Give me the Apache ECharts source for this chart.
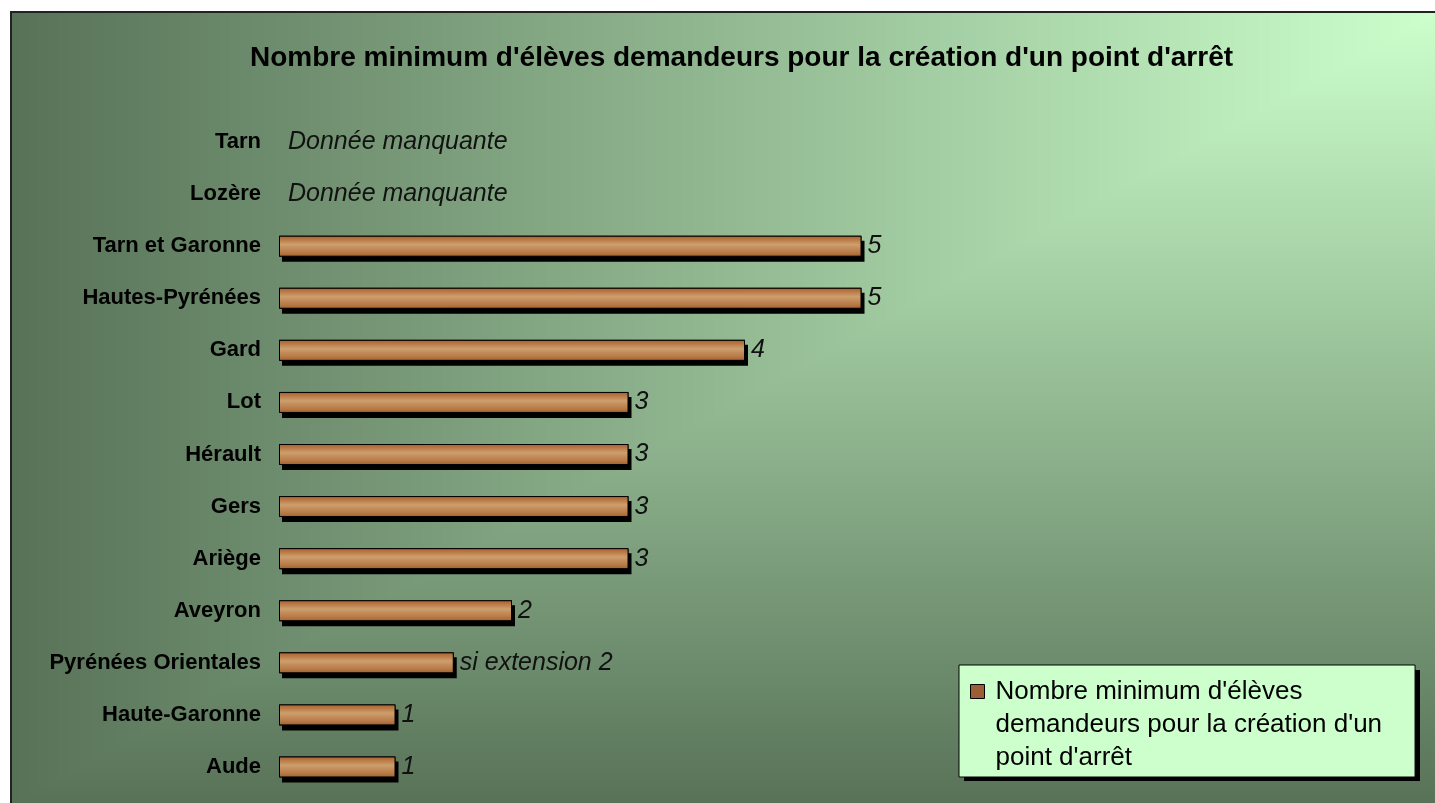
<!DOCTYPE html>
<html>
<head>
<meta charset="utf-8">
<script src="https://cdn.jsdelivr.net/npm/echarts@6/dist/echarts.min.js"></script>
<style>
  html, body { margin: 0; padding: 0; background: #fff; overflow: hidden; }
  #cadre {
    position: absolute; left: 10px; top: 11px;
    width: 1440px; height: 800px;
    border-left: 2px solid #222; border-top: 2px solid #222;
  }
  #chart { position: absolute; left: 0; top: 0; width: 1435px; height: 803px; }
</style>
</head>
<body>
<div id="cadre"></div>
<div id="chart"></div>
<script>
// données (ordre Excel : du bas vers le haut)
const departements = ['Aude', 'Haute-Garonne', 'Pyrénées Orientales', 'Aveyron', 'Ariège', 'Gers',
  'Hérault', 'Lot', 'Gard', 'Hautes-Pyrénées', 'Tarn et Garonne', 'Lozère', 'Tarn'];
const nbEleves = [1, 1, 1.5, 2, 3, 3, 3, 3, 4, 5, 5, null, null];
const etiquettes = ['1', '1', 'si extension 2', '2', '3', '3', '3', '3', '4', '5', '5',
  'Donnée manquante', 'Donnée manquante'];
const titre = "Nombre minimum d'élèves demandeurs pour la création d'un point d'arrêt";

const police = 'Arial, "Liberation Sans", sans-serif';

// fond dégradé "depuis le coin" (haut droit clair -> bords foncés)
(function () {
  const W = 1425, H = 792;
  const cv = document.createElement('canvas');
  cv.width = W; cv.height = H;
  const ctx = cv.getContext('2d');
  const img = ctx.createImageData(W, H);
  const clair = [204, 255, 204], fonce = [88, 114, 88];
  for (let y = 0; y < H; y++) {
    for (let x = 0; x < W; x++) {
      const d = Math.max((W - 1 - x) / (W - 1), y / (H - 1));
      const k = (y * W + x) * 4;
      img.data[k] = clair[0] + (fonce[0] - clair[0]) * d;
      img.data[k + 1] = clair[1] + (fonce[1] - clair[1]) * d;
      img.data[k + 2] = clair[2] + (fonce[2] - clair[2]) * d;
      img.data[k + 3] = 255;
    }
  }
  ctx.putImageData(img, 0, 0);
  document.getElementById('cadre').style.backgroundImage = 'url(' + cv.toDataURL() + ')';
  document.getElementById('cadre').style.backgroundRepeat = 'no-repeat';
})();

// couleur "bois" des barres
var bois = {
  type: 'linear', x: 0, y: 0, x2: 0, y2: 1,
  colorStops: [
    { offset: 0, color: '#a65e2b' },
    { offset: 0.2, color: '#bb7c48' },
    { offset: 0.42, color: '#cd9f6e' },
    { offset: 0.6, color: '#c38c5a' },
    { offset: 0.8, color: '#b77a47' },
    { offset: 1, color: '#a0602e' }
  ]
};

// valeurs manquantes : barre invisible, seule l'étiquette reste
function construire() {
  return nbEleves.map(function (v) {
    if (v === null) {
      return {
        value: 0,
        itemStyle: { color: 'transparent', borderWidth: 0, shadowColor: 'transparent' },
        label: { distance: 9 }
      };
    }
    return v;
  });
}

var myChart = echarts.init(document.getElementById('chart'));
var option = {
  animation: false,
  title: {
    text: titre,
    left: 250,
    top: 44,
    padding: 0,
    textStyle: { fontFamily: police, fontSize: 28, fontWeight: 'bold', color: '#000' }
  },
  legend: {
    data: [titre],
    left: 959,
    top: 665,
    orient: 'vertical',
    padding: [10, 33, 2, 11],
    backgroundColor: '#ccffcc',
    borderColor: '#000',
    borderWidth: 1,
    itemWidth: 20,
    itemHeight: 99,
    icon: 'path://M0,9L14,9L14,23L0,23Z M0,0 M20,99',
    itemStyle: { color: '#9c5f35', borderColor: '#000', borderWidth: 1 },
    textStyle: { fontFamily: police, fontSize: 26, lineHeight: 33, color: '#000' },
    formatter: function () {
      return "Nombre minimum d'élèves\ndemandeurs pour la création d'un\npoint d'arrêt";
    }
  },
  // ombre de la légende
  graphic: [{
    type: 'rect',
    left: 964,
    top: 670,
    z: 1,
    shape: { width: 456, height: 111 },
    style: { fill: '#000' }
  }],
  grid: { left: 279, top: 116, width: 699, height: 677 },
  xAxis: { type: 'value', min: 0, max: 6, show: false },
  yAxis: {
    type: 'category',
    data: departements,
    axisLine: { show: false },
    axisTick: { show: false },
    splitLine: { show: false },
    axisLabel: { margin: 18, color: '#000', fontFamily: police, fontSize: 22, fontWeight: 'bold' }
  },
  series: [
    {
      // ombre portée des barres
      name: 'ombre',
      type: 'bar',
      barWidth: 21,
      barGap: '-100%',
      silent: true,
      data: construire(),
      itemStyle: {
        color: '#000',
        shadowColor: '#000',
        shadowBlur: 0,
        shadowOffsetX: 3,
        shadowOffsetY: 5
      }
    },
    {
      name: titre,
      type: 'bar',
      barWidth: 21,
      barGap: '-100%',
      data: construire(),
      itemStyle: {
        color: bois,
        borderColor: '#000',
        borderWidth: 1
      },
      label: {
        show: true,
        position: 'right',
        distance: 6,
        color: '#111',
        fontFamily: police,
        fontSize: 25,
        fontStyle: 'italic',
        formatter: function (p) { return etiquettes[p.dataIndex]; }
      }
    }
  ]
};
myChart.setOption(option);
</script>
</body>
</html>
